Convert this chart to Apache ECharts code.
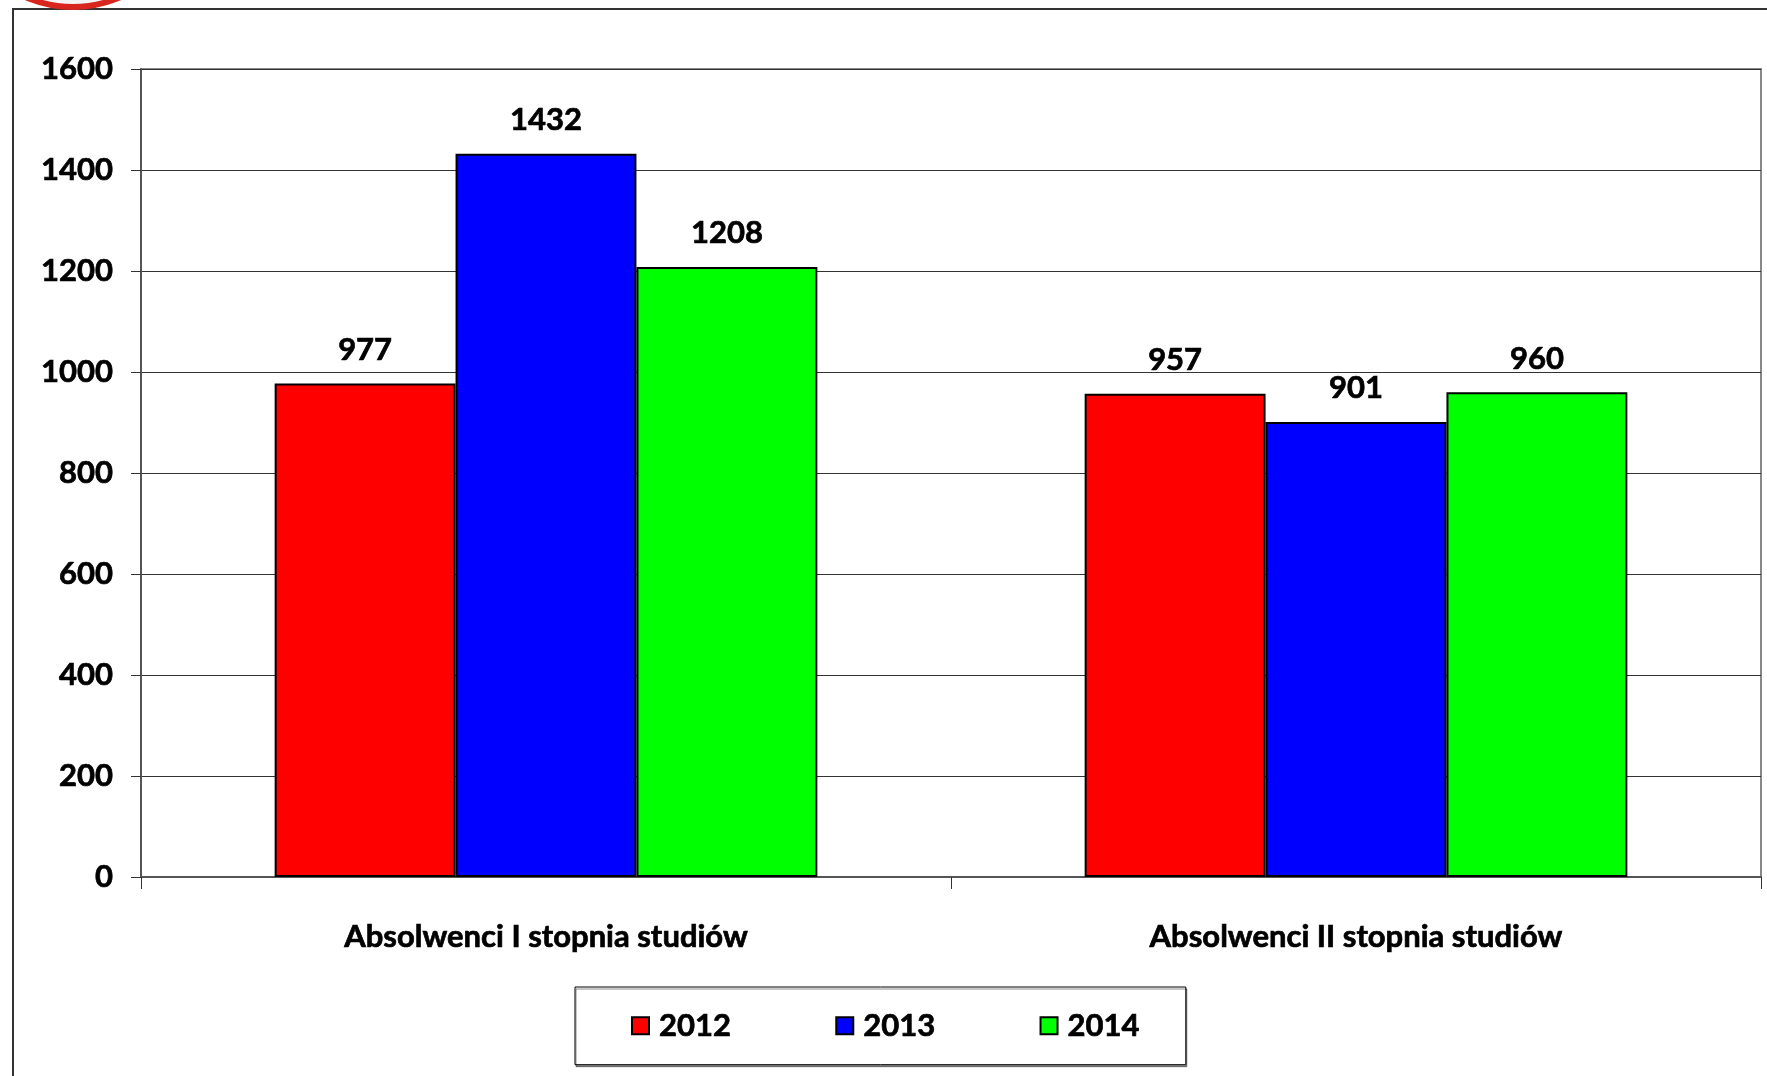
<!DOCTYPE html>
<html>
<head>
    <meta charset="utf-8" />
    <title>absolwenci</title>
    <script src="https://cdn.jsdelivr.net/npm/echarts@6/dist/echarts.min.js"></script>
    <style>
        html, body { margin: 0; padding: 0; background: #fff; }
        #container { width: 1767px; height: 1076px; }
    </style>
</head>
<body>
    <div id="container"></div>
<script>
    // dane z wykresu
    var categories = ['Absolwenci I stopnia studiów', 'Absolwenci II stopnia studiów'];
    var years = ['2012', '2013', '2014'];
    var v2012 = [977, 957];
    var v2013 = [1432, 901];
    var v2014 = [1208, 960];
    var yMin = 0, yMax = 1600, yStep = 200;

    var colors = ['#ff0000', '#0000ff', '#00ff00'];
    var font = 'Lato';
    // lekkie pogrubienie tekstu (oryginal ma ciezszy krój)
    var heavy = { textBorderColor: '#000', textBorderWidth: 0.7 };

    var dom = document.getElementById("container");
    var myChart = echarts.init(dom);

    function mkSeries(name, data, color) {
        return {
            name: name,
            type: 'bar',
            data: data,
            barGap: '0%',
            barCategoryGap: '33%',
            itemStyle: { color: color, borderColor: '#000', borderWidth: 2 },
            label: Object.assign({
                show: true, position: 'top', distance: 18,
                color: '#000', fontFamily: font, fontWeight: 'bold', fontSize: 31
            }, heavy)
        };
    }

    var option = {
        animation: false,
        backgroundColor: '#fff',
        grid: {
            left: 141, right: 6, top: 69, bottom: 199,
            show: true, borderColor: '#888', borderWidth: 2
        },
        xAxis: {
            type: 'category',
            data: categories,
            axisLine: { lineStyle: { color: '#555', width: 2 } },
            axisTick: { show: true, length: 12, lineStyle: { color: '#333', width: 1 } },
            axisLabel: Object.assign({
                margin: 44, color: '#000', fontFamily: font, fontWeight: 'bold', fontSize: 31
            }, heavy)
        },
        yAxis: {
            type: 'value',
            min: yMin, max: yMax, interval: yStep,
            axisLine: { show: true, lineStyle: { color: '#555', width: 2 } },
            axisTick: { show: true, length: 10, lineStyle: { color: '#333', width: 1 } },
            splitLine: { lineStyle: { color: '#333', width: 1 } },
            axisLabel: Object.assign({
                margin: 28, color: '#000', fontFamily: font, fontWeight: 'bold', fontSize: 31,
                padding: [8, 0, 0, 0],
                formatter: function (v) { return String(v); }
            }, heavy)
        },
        legend: {
            data: years,
            left: 575, top: 987,
            padding: [23, 46, 23, 56],
            itemWidth: 17, itemHeight: 17, itemGap: 104,
            icon: 'rect',
            borderColor: '#000', borderWidth: 1,
            shadowColor: 'rgba(0,0,0,0.45)', shadowOffsetX: 1, shadowOffsetY: 2,
            backgroundColor: '#fff',
            textStyle: Object.assign({ color: '#000', fontFamily: font, fontWeight: 'bold', fontSize: 31, padding: [0, 0, 0, 5] }, heavy)
        },
        graphic: [
            {   // ramka zewnetrzna
                type: 'rect', z: -10, silent: true,
                shape: { x: 13, y: 9, width: 1800, height: 1200 },
                style: { fill: 'none', stroke: '#333', lineWidth: 2 }
            },
            {   // czerwony znak u gory
                type: 'circle', z: -5, silent: true,
                shape: { cx: 73, cy: -111, r: 118 },
                style: { fill: '#f4f4f4', stroke: '#d8261f', lineWidth: 6 }
            }
        ],
        series: [
            mkSeries(years[0], v2012, colors[0]),
            mkSeries(years[1], v2013, colors[1]),
            mkSeries(years[2], v2014, colors[2])
        ]
    };

    myChart.setOption(option);
</script>
</body>
</html>
